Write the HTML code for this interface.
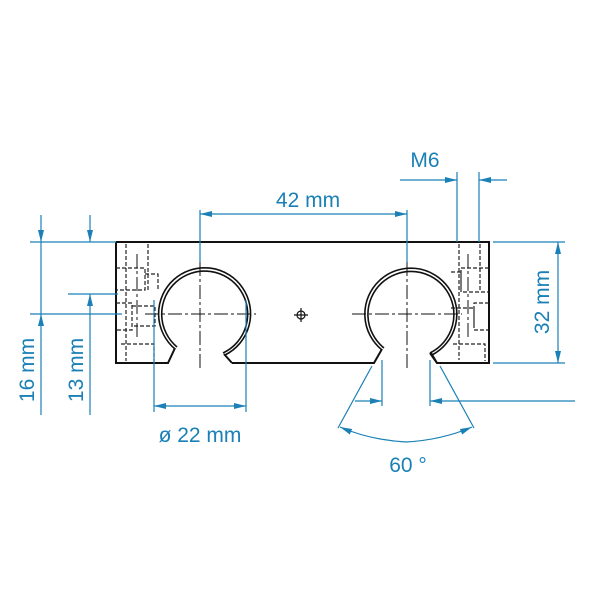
<!DOCTYPE html>
<html><head><meta charset="utf-8"><style>
html,body{margin:0;padding:0;background:#fff;}
svg{display:block;}
text{font-family:"Liberation Sans",sans-serif;fill:#1a80b6;font-size:21px;}
</style></head><body>
<svg width="600" height="600" viewBox="0 0 600 600" xmlns="http://www.w3.org/2000/svg">
<defs>
<marker id="a" viewBox="0 0 12 6" refX="12" refY="3" markerWidth="12" markerHeight="6" orient="auto" markerUnits="userSpaceOnUse"><path d="M0,0 L12,3 L0,6 z" fill="#1a80b6"/></marker>
</defs>
<g fill="none" stroke="#111" stroke-width="2">
<path d="M116,242 H489 V363 H437 L431,353 M116,242 V363 H168 L175,348 M232,363 L224,354 M232,363 H374 L382,349 M437,363 L430,353"/>
</g>
<g fill="none" stroke="#111" stroke-width="1.6">
<path d="M175,349 A46,46 0 1 1 225,355"/>
<path d="M177,347 A43,43 0 1 1 223,353"/>
<path d="M382,350 A46,46 0 1 1 432,355"/>
<path d="M384,348 A43,43 0 1 1 430,353"/>
</g>
<g fill="none" stroke="#222" stroke-width="1.2" stroke-dasharray="4,2">
<path d="M126,244 V361 M148,244 V290 M116,268 H145 V290 H116 M145,274 H158 V290 M116,303 H132 V330 H116 M132,306 H155 V326 H132 M121,344 H154 V361"/>
<path d="M459,244 V360 M480,244 V290 M489,268 H461 V292 H489 M451,272 H461 V290 M489,303 H474 V330 H489 M451,308 H474 V326 M453,344 H485 V361"/>
</g>
<g stroke="#111" stroke-width="1" stroke-dasharray="14,3,3,3" fill="none">
<path d="M200,262 V370 M145,314 H256 M407,262 V370 M352,314 H462 M137,254 V340 M468,254 V340"/>
</g>
<g stroke="#111" stroke-width="1.2" fill="none">
<circle cx="301" cy="315" r="4"/><path d="M294,315 H308 M301,308 V322"/>
</g>
<g stroke="#1a80b6" stroke-width="1.2" fill="none">
<path d="M30,242 H116 M30,314 H122 M68,294 H118"/>
<path d="M41,215 V242" marker-end="url(#a)"/><path d="M41,415 V314" marker-end="url(#a)"/><path d="M41,242 V314"/>
<path d="M90,215 V242" marker-end="url(#a)"/><path d="M90,415 V294" marker-end="url(#a)"/>
<path d="M200,210 V262 M407,210 V262"/>
<path d="M300,214 H200" marker-end="url(#a)"/><path d="M300,214 H407" marker-end="url(#a)"/>
<path d="M457,172 V242 M479,172 V242"/>
<path d="M400,180 H457" marker-end="url(#a)"/><path d="M507,180 H479" marker-end="url(#a)"/>
<path d="M493,242 H565 M493,363 H565"/>
<path d="M558,300 V242" marker-end="url(#a)"/><path d="M558,300 V363" marker-end="url(#a)"/>
<path d="M154,300 V412 M246,300 V412"/>
<path d="M200,406 H154" marker-end="url(#a)"/><path d="M200,406 H246" marker-end="url(#a)"/>
<path d="M382,360 V406 M430,360 V406"/>
<path d="M355,401 H382" marker-end="url(#a)"/><path d="M575,401 H430" marker-end="url(#a)"/>
<path d="M372,366 L338,428 M440,366 L474,428"/>
<path d="M406,442 Q370,440 340,427" marker-end="url(#a)"/><path d="M406,442 Q442,440 472,427" marker-end="url(#a)"/>
</g>
<text x="308" y="207" text-anchor="middle">42 mm</text>
<text x="425" y="167" text-anchor="middle">M6</text>
<text x="200" y="442" text-anchor="middle">ø 22 mm</text>
<text x="408" y="472" text-anchor="middle">60 °</text>
<text transform="translate(34,370) rotate(-90)" text-anchor="middle">16 mm</text>
<text transform="translate(83,370) rotate(-90)" text-anchor="middle">13 mm</text>
<text transform="translate(549,302) rotate(-90)" text-anchor="middle">32 mm</text>
</svg>
</body></html>
